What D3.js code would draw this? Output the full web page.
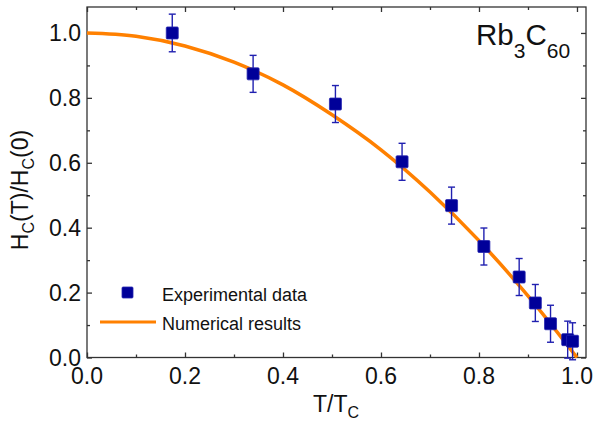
<!DOCTYPE html>
<html><head><meta charset="utf-8">
<script src="https://cdn.jsdelivr.net/npm/d3@7/dist/d3.min.js"></script>
<style>body{margin:0;background:#fff}svg{display:block;font-family:"Liberation Sans",Arial,sans-serif}</style>
</head><body>
<svg id="c" width="595" height="424"></svg>
<script>
// Experimental data
const expT = [0.174, 0.339, 0.507, 0.643, 0.744, 0.810, 0.882, 0.915, 0.946, 0.981, 0.991];
const expH = [1.000, 0.874, 0.781, 0.603, 0.468, 0.342, 0.248, 0.168, 0.104, 0.055, 0.050];
const expErr = [0.058, 0.057, 0.057, 0.057, 0.057, 0.057, 0.057, 0.057, 0.057, 0.057, 0.057];
// Numerical results
const numT = [0.0, 0.1, 0.2, 0.3, 0.4, 0.5, 0.6, 0.7, 0.8, 0.9, 1.0];
const numH = [1.000, 0.990, 0.960, 0.910, 0.840, 0.748, 0.640, 0.510, 0.360, 0.190, 0.000];
const xTicks = [0.0, 0.2, 0.4, 0.6, 0.8, 1.0];
const yTicks = [0.0, 0.2, 0.4, 0.6, 0.8, 1.0];
const xMinor = [0.1, 0.3, 0.5, 0.7, 0.9];
const yMinor = [0.1, 0.3, 0.5, 0.7, 0.9];

const L = 87, R = 586, T = 7, B = 357.5;
const x = d3.scaleLinear().domain([0, 1.0184]).range([L, R]);
const y = d3.scaleLinear().domain([0, 1.08]).range([B, T]);
const svg = d3.select("#c");
const axisCol = "#333";

// frame
svg.append("rect").attr("x", L).attr("y", T).attr("width", R - L).attr("height", B - T)
  .attr("fill", "none").attr("stroke", axisCol).attr("stroke-width", 1.3);

function ticks(axisGen, tr, vals, size) {
  const g = svg.append("g").attr("transform", tr).call(axisGen.tickValues(vals).tickSize(size).tickFormat(""));
  g.select(".domain").remove();
  g.selectAll("line").attr("stroke", axisCol).attr("stroke-width", 1.3);
  return g;
}
// inward ticks on all four sides
ticks(d3.axisTop(x), `translate(0,${B})`, xTicks, 5);
ticks(d3.axisTop(x), `translate(0,${B})`, xMinor, 3);
ticks(d3.axisBottom(x), `translate(0,${T})`, xTicks, 5);
ticks(d3.axisBottom(x), `translate(0,${T})`, xMinor, 3);
ticks(d3.axisRight(y), `translate(${L},0)`, yTicks, 5);
ticks(d3.axisRight(y), `translate(${L},0)`, yMinor, 3);
ticks(d3.axisLeft(y), `translate(${R},0)`, yTicks, 5);
ticks(d3.axisLeft(y), `translate(${R},0)`, yMinor, 3);

// tick labels
svg.append("g").selectAll("text").data(xTicks).join("text")
  .attr("x", d => x(d)).attr("y", 383.5).attr("text-anchor", "middle")
  .attr("font-size", 23).attr("fill", "#111").text(d => d.toFixed(1));
svg.append("g").selectAll("text").data(yTicks).join("text")
  .attr("x", 81).attr("y", d => y(d) + 8).attr("text-anchor", "end")
  .attr("font-size", 23).attr("fill", "#111").text(d => d.toFixed(1));

// axis titles
const xt = svg.append("text").attr("x", 336).attr("y", 412).attr("text-anchor", "middle")
  .attr("font-size", 23).attr("fill", "#111");
xt.append("tspan").text("T/T");
xt.append("tspan").attr("font-size", 16).attr("dy", 6).text("C");

const yt = svg.append("text").attr("transform", "translate(28,190) rotate(-90)").attr("text-anchor", "middle")
  .attr("font-size", 23).attr("fill", "#111");
yt.append("tspan").text("H");
yt.append("tspan").attr("font-size", 16).attr("dy", 6).text("C");
yt.append("tspan").attr("dy", -6).text("(T)/H");
yt.append("tspan").attr("font-size", 16).attr("dy", 6).text("C");
yt.append("tspan").attr("dy", -6).text("(0)");

// Rb3C60 label
const rb = svg.append("text").attr("x", 476).attr("y", 45).attr("font-size", 29.5).attr("fill", "#111");
rb.append("tspan").text("Rb");
rb.append("tspan").attr("font-size", 21).attr("dy", 13).text("3");
rb.append("tspan").attr("dy", -13).text("C");
rb.append("tspan").attr("font-size", 21).attr("dy", 13).text("60");

// curve
const numData = numT.map((t, i) => [t, numH[i]]);
svg.append("path").datum(numData)
  .attr("d", d3.line().x(d => x(d[0])).y(d => y(d[1])).curve(d3.curveMonotoneX))
  .attr("fill", "none").attr("stroke", "#ff8000").attr("stroke-width", 3.5);

// error bars + squares
const expData = expT.map((t, i) => ({t, h: expH[i], e: expErr[i]}));
const eb = svg.append("g").attr("stroke", "#2020b0").attr("stroke-width", 1.4);
expData.forEach(d => {
  eb.append("line").attr("x1", x(d.t)).attr("x2", x(d.t)).attr("y1", y(d.h - d.e)).attr("y2", y(d.h + d.e));
  eb.append("line").attr("x1", x(d.t) - 3.5).attr("x2", x(d.t) + 3.5).attr("y1", y(d.h - d.e)).attr("y2", y(d.h - d.e));
  eb.append("line").attr("x1", x(d.t) - 3.5).attr("x2", x(d.t) + 3.5).attr("y1", y(d.h + d.e)).attr("y2", y(d.h + d.e));
});
svg.append("g").selectAll("rect").data(expData).join("rect")
  .attr("x", d => x(d.t) - 6).attr("y", d => y(d.h) - 6).attr("width", 12).attr("height", 12)
  .attr("rx", 1).attr("fill", "#000099").attr("stroke", "#2424b0").attr("stroke-width", 0.8);

// legend
svg.append("rect").attr("x", 122).attr("y", 287).attr("width", 11).attr("height", 11)
  .attr("rx", 1).attr("fill", "#000099").attr("stroke", "#2424b0").attr("stroke-width", 0.8);
svg.append("line").attr("x1", 100).attr("x2", 156).attr("y1", 322).attr("y2", 322)
  .attr("stroke", "#ff8000").attr("stroke-width", 3);
svg.append("text").attr("x", 162).attr("y", 301).attr("font-size", 18).attr("fill", "#111").text("Experimental data");
svg.append("text").attr("x", 162).attr("y", 330).attr("font-size", 18).attr("fill", "#111").text("Numerical results");
</script>
</body></html>
